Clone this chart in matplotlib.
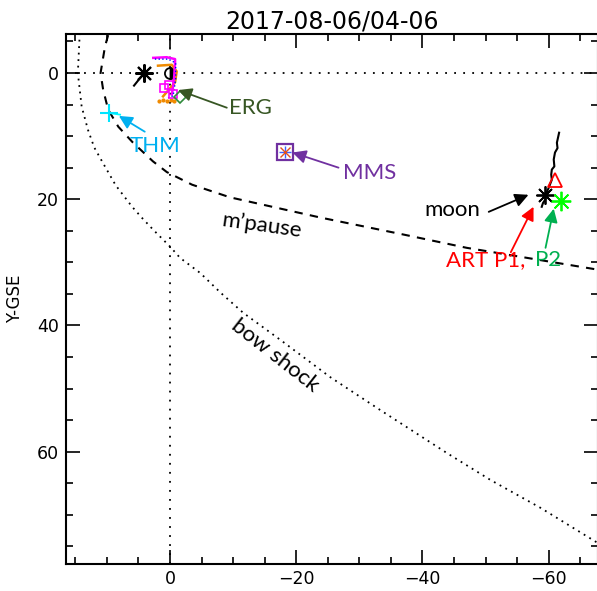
#!/usr/bin/env python3
"""
Spacecraft positions in the GSE X-Y plane, 2017-08-06 04-06 UT,
with model magnetopause and bow shock.
"""
import numpy as np
import matplotlib
matplotlib.use('Agg')
import matplotlib.pyplot as plt
from matplotlib.ticker import MultipleLocator

# Model boundaries
mp_x = [9.8, 10.3, 11.0, 10.6, 9.8, 8.2, 5.9, 2.7, 0.5, -3.5, -9.5, -23.8, -37.0, -47.0, -65.6, -68.0]
mp_y = [-6.0, -4.2, 0.0, 2.6, 5.8, 8.5, 11.0, 14.0, 15.7, 17.7, 19.7, 22.9, 25.6, 27.7, 30.8, 31.2]
bs_x = [14.3, 14.6, 14.0, 13.0, 12.0, 10.6, 8.6, 6.0, 4.4, 2.6, 0.0, -1.6, -4.8, -8.0,
        -11.6, -17.5, -25.4, -33.3, -44.0, -50.8, -58.7, -67.5, -68.0]
bs_y = [-6.3, 0.0, 5.3, 9.0, 11.8, 14.3, 17.8, 21.2, 23.0, 24.9, 27.5, 29.3, 31.7, 34.8,
        38.0, 42.3, 48.2, 53.4, 60.3, 64.5, 68.9, 74.3, 74.6]

# Near-Earth traces
ast_x = [4.1, 5.7]
ast_y = [0.0, 2.0]
mag_x = [2.65, 0.52, -0.8, -0.8, -0.63, -0.3]
mag_y = [-2.4, -2.5, -2.2, -1.6, 1.06, 3.4]
blue_x = [2.4, 0.3, -0.9, -0.9, -0.5, 0.4]
blue_y = [-2.2, -2.2, -1.6, 1.0, 3.6, 4.0]
orng_x = [1.9, -0.27, -1.06, -0.8, 1.1]
orng_y = [-1.16, -1.3, -0.25, 1.5, 3.7]
orng_dot_x = [1.8, 1.1, 0.5, -0.1, -0.6]
orng_dot_y = [4.4, 4.3, 4.4, 4.3, 4.4]
mag_sq_x = [0.9, 0.1, -0.4]
mag_sq_y = [2.4, 1.9, 3.3]

# Spacecraft
erg = (-1.6, 3.75)
thm_x = [9.6, 7.9]
thm_y = [6.35, 6.6]
mms = (-18.25, 12.5)

# Moon / ARTEMIS
moon_x = [-61.65, -61.3, -61.4, -61.0, -60.8, -60.9, -60.5, -60.4, -60.5, -60.0, -59.4, -59.5, -59.1, -58.9]
moon_y = [9.46, 11.05, 11.9, 12.6, 13.7, 14.8, 15.3, 16.1, 16.9, 18.2, 19.6, 20.0, 20.6, 21.2]
moon = (-59.4, 19.3)
art_p1 = (-61.0, 16.9)
art_p2 = (-61.9, 20.35)

fig = plt.figure(figsize=(5.97, 5.91), dpi=100)
ax = fig.add_axes([0.110, 0.0457, 0.891, 0.897])

ax.axhline(0, color='black', lw=1.3, ls=(0, (1, 4)))
ax.axvline(0, color='black', lw=1.3, ls=(0, (1, 4)))
ax.plot(mp_x, mp_y, color='black', lw=1.5, ls=(0, (4, 3.5)))
ax.plot(bs_x, bs_y, color='black', lw=1.3, ls=(0, (1, 2.6)))

# near-Earth stuff
ax.plot(0, 0, marker='o', ms=8, mec='black', mfc='black', mfcalt='white',
        fillstyle='right', mew=1.3)
ax.plot(ast_x, ast_y, color='black', lw=1.5)
ax.plot(ast_x[0], ast_y[0], marker=(8, 2, 0), ms=13, color='black', mew=1.5)
ax.plot(orng_x, orng_y, color='#f08a00', lw=1.8)
ax.plot(orng_dot_x, orng_dot_y, ls='none', marker='o', ms=2, color='#f08a00')
ax.plot(mag_x, mag_y, color='#ff00ff', lw=1.8)
ax.plot(blue_x, blue_y, color='#0000ff', lw=1.0, ls=':')
ax.plot(mag_sq_x, mag_sq_y, ls='none', marker='s', ms=6, mfc='none', mec='#ff00ff', mew=1.2)
ax.plot(erg[0], erg[1], marker='D', ms=6, mfc='none', mec='#2e8b3a', mew=1.2)

ax.plot(thm_x, thm_y, color='#00ffff', lw=1.3)
ax.plot(thm_x[0], thm_y[0], marker='+', ms=13, color='#00e5ff', mew=1.5)

ax.plot(mms[0], mms[1], marker='s', ms=11, mfc='none', mec='#7030a0', mew=1.6)
ax.plot(mms[0], mms[1], marker='+', ms=8, color='#4060ff', mew=1.0)
ax.plot(mms[0], mms[1], marker='x', ms=7, color='#e05020', mew=1.0)

ax.plot(moon_x, moon_y, color='black', lw=1.5)
ax.plot(moon[0], moon[1], marker=(8, 2, 0), ms=13, color='black', mew=1.3)
ax.plot(art_p1[0], art_p1[1], marker='^', ms=10, mfc='none', mec='#ff0000', mew=1.3)
ax.plot(art_p2[0], art_p2[1], marker=(8, 2, 0), ms=14, color='#00ff00', mew=1.3)

# labels and arrows
lab = dict(family='Lato', fontsize=16)
def arrow(tip, tail, c):
    ax.annotate('', xy=tip, xytext=tail,
                arrowprops=dict(arrowstyle='-|>', color=c, lw=1.3,
                                mutation_scale=20, shrinkA=0, shrinkB=0))

arrow((-1.3, 2.7), (-9.0, 5.5), '#375623')
ax.text(-12.8, 5.5, 'ERG', color='#375623', ha='center', va='center', **lab)
arrow((8.1, 6.8), (4.0, 9.3), '#00b0f0')
ax.text(2.4, 11.5, 'THM', color='#00b0f0', ha='center', va='center', **lab)
arrow((-19.4, 12.6), (-26.7, 15.0), '#7030a0')
ax.text(-31.7, 15.8, 'MMS', color='#7030a0', ha='center', va='center', **lab)
arrow((-56.8, 19.3), (-50.5, 22.0), 'black')
ax.text(-44.8, 21.7, 'moon', color='black', ha='center', va='center', **lab)
arrow((-57.6, 21.2), (-54.0, 28.4), '#ff0000')
arrow((-60.8, 21.5), (-59.5, 27.7), '#00b050')
ax.text(-43.8, 29.6, 'ART P1,', color='#ff0000', ha='left', va='center', **lab)
ax.text(-57.8, 29.6, 'P2', color='#00b050', ha='left', va='center', **lab)
ax.text(-14.6, 24.2, 'm\u2019pause', color='black', ha='center', va='center',
        rotation=-8, **lab)
ax.text(-16.7, 44.7, 'bow shock', color='black', ha='center', va='center',
        rotation=-38, **lab)

ax.set_xlim(16.53, -67.75)
ax.set_ylim(77.8, -6.2)
ax.xaxis.set_major_locator(MultipleLocator(20))
ax.xaxis.set_minor_locator(MultipleLocator(5))
ax.yaxis.set_major_locator(MultipleLocator(20))
ax.yaxis.set_minor_locator(MultipleLocator(5))
ax.tick_params(which='both', direction='in', top=True, right=True, width=1.2,
               labelsize=12.5)
ax.tick_params(which='major', length=10)
ax.tick_params(which='minor', length=5)
ax.tick_params(axis='x', pad=4)
ax.tick_params(axis='y', pad=5)
for s in ax.spines.values():
    s.set_linewidth(1.5)

ax.set_ylabel('Y-GSE', fontsize=12, labelpad=9)
ax.set_title('2017-08-06/04-06', fontsize=17, pad=3)

fig.savefig('out.png', dpi=100)
